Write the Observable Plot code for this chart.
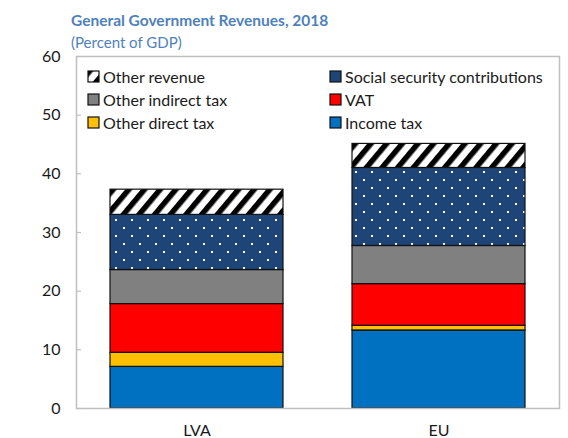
<!DOCTYPE html>
<html>
<head>
<meta charset="utf-8">
<script src="https://cdn.jsdelivr.net/npm/d3@7"></script>
<script src="https://cdn.jsdelivr.net/npm/@observablehq/plot@0.6"></script>
<style>
  html, body { margin: 0; padding: 0; background: #fff; }
  body { width: 568px; height: 438px; overflow: hidden; font-family: Lato, "Open Sans", sans-serif; }
  #wrap { position: relative; width: 568px; height: 438px; }
  #header { position: relative; height: 40px; z-index: 2; }
  #title { position: absolute; left: 71px; top: 11px; font-size: 15.5px; font-weight: bold; color: #4F81BD; line-height: 18px; white-space: nowrap; }
  #subtitle { position: absolute; left: 71px; top: 34px; font-size: 15px; color: #4F81BD; line-height: 17px; white-space: nowrap; }
  #legend { position: absolute; left: 87px; top: 65px; display: grid; grid-template-columns: 242px auto; grid-auto-rows: 23px; font-size: 16px; color: #1a1a1a; z-index: 2; }
  .item { display: flex; align-items: center; gap: 3px; white-space: nowrap; }
  .item svg { display: block; }
</style>
</head>
<body>
<div id="wrap">
  <div id="header">
    <div id="title">General Government Revenues, 2018</div>
    <div id="subtitle">(Percent of GDP)</div>
  </div>
  <div id="chart"></div>
  <div id="legend"></div>
</div>
<script>
const countries = ["LVA", "EU"];
const series = ["Income tax", "Other direct tax", "VAT", "Other indirect tax", "Social security contributions", "Other revenue"];
const lvaValues = [7.1, 2.4, 8.3, 5.8, 9.4, 4.3];
const euValues = [13.3, 0.8, 7.1, 6.5, 13.3, 4.1];
const yTicks = [0, 10, 20, 30, 40, 50, 60];
const fills = ["#0070C0", "#FFC000", "#FF0000", "#808080", "url(#dots)", "url(#stripes)"];
const legendOrder = ["Other revenue", "Social security contributions", "Other indirect tax", "VAT", "Other direct tax", "Income tax"];

const data = [];
countries.forEach((c, ci) => {
  const vals = ci === 0 ? lvaValues : euValues;
  series.forEach((s, i) => data.push({country: c, series: s, value: vals[i]}));
});

const chart = Plot.plot({
  width: 568,
  height: 398,
  marginTop: 16,
  marginBottom: 30,
  marginLeft: 76,
  marginRight: 9,
  style: {fontFamily: "Lato, 'Open Sans', sans-serif", fontSize: "16px", color: "#1a1a1a", background: "transparent"},
  x: {domain: countries, paddingInner: 0.285, paddingOuter: 0.14, label: null},
  y: {domain: [0, 60], label: null},
  color: {domain: series, range: fills},
  marks: [
    Plot.barY(data, {x: "country", y: "value", fill: "series", stroke: "#111", strokeWidth: 1.2}),
    Plot.frame({stroke: "#bfbfbf", strokeWidth: 1.5}),
    Plot.axisY({ticks: yTicks, tickSize: -5, tickPadding: 21, stroke: "#bfbfbf", strokeWidth: 1.2, label: null, fontSize: 16}),
    Plot.axisX({tickSize: 0, tickPadding: 16, label: null, fontSize: 16})
  ]
});

const svg = d3.select(chart);
const defs = svg.insert("defs", ":first-child");
const stripes = defs.append("pattern").attr("id", "stripes").attr("patternUnits", "userSpaceOnUse")
  .attr("width", 12).attr("height", 12).attr("patternTransform", "rotate(40)");
stripes.append("rect").attr("width", 12).attr("height", 12).attr("fill", "#fff");
stripes.append("rect").attr("width", 5.5).attr("height", 12).attr("fill", "#000");
const dots = defs.append("pattern").attr("id", "dots").attr("patternUnits", "userSpaceOnUse")
  .attr("width", 16).attr("height", 16);
dots.append("rect").attr("width", 16).attr("height", 16).attr("fill", "#1F4477");
dots.append("rect").attr("x", 3).attr("y", 3).attr("width", 2).attr("height", 2).attr("fill", "#fff");
dots.append("rect").attr("x", 11).attr("y", 11).attr("width", 2).attr("height", 2).attr("fill", "#fff");

document.getElementById("chart").appendChild(chart);

const legend = d3.select("#legend");
legendOrder.forEach(s => {
  const item = legend.append("div").attr("class", "item");
  const sw = item.append("svg").attr("width", 13).attr("height", 13);
  const fill = fills[series.indexOf(s)];
  sw.append("rect").attr("x", 1).attr("y", 1).attr("width", 11).attr("height", 11)
    .attr("fill", s === "Social security contributions" ? "#1F4477" : fill)
    .attr("stroke", "#111").attr("stroke-width", 1.2);
  item.append("span").text(s);
});
</script>
</body>
</html>
